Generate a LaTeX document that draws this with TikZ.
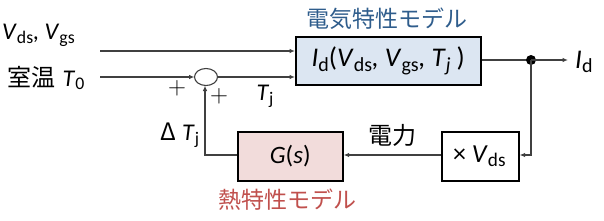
\documentclass[tikz,border=0pt]{standalone}
\usepackage{fontspec}
\usepackage{graphicx}
\setmainfont{Carlito}
\newfontfamily\jp{Noto Sans CJK JP}
\usetikzlibrary{arrows.meta}
\definecolor{bluefill}{HTML}{DCE6F2}
\definecolor{pinkfill}{HTML}{F2DCDB}
\definecolor{bluetitle}{HTML}{2F5D8C}
\definecolor{redtitle}{HTML}{C0504D}
\definecolor{linegray}{HTML}{404040}
\newcommand\lo[1]{\raisebox{-0.33ex}{\scalebox{0.74}{#1}}}
\tikzset{
  conn/.style={draw=linegray, line width=1.1pt, -{Latex[length=5.5pt,width=4.5pt]}},
  plain/.style={draw=linegray, line width=1.1pt},
  blockbox/.style={draw=black, line width=1.6pt, anchor=north west, inner sep=0pt},
  lbl/.style={inner sep=0pt, font=\fontsize{24}{26}\selectfont},
  jplbl/.style={inner sep=0pt, font=\jp\fontsize{23}{26}\selectfont},
  plus/.style={inner sep=0pt, font=\fontsize{24}{26}\selectfont},
}
\begin{document}
\begin{tikzpicture}[x=1pt,y=-1pt]
\useasboundingbox (0,0) rectangle (604,220);
% blocks
\node[blockbox, fill=bluefill, minimum width=185pt, minimum height=48pt] (elec) at (295,36) {};
\node[lbl, font=\fontsize{27}{30}\selectfont] (elect) at (elec.center) {\textit{I}\lo{d}(\textit{V}\lo{ds}\textit{,} \textit{V}\lo{gs}\textit{,} \textit{T}\lo{\textit{j}} )};
\node[blockbox, fill=pinkfill, minimum width=105pt, minimum height=49pt] (therm) at (237,131) {};
\node[lbl, font=\fontsize{25}{28}\selectfont] (thermt) at (therm.center) {\textit{G}(\textit{s})};
\node[blockbox, fill=white, minimum width=77pt, minimum height=49pt] (mult) at (441,131) {};
\node[lbl, font=\fontsize{26}{28}\selectfont] (multt) at ([xshift=-1pt]mult.center) {× \textit{V}\lo{ds}};
% titles
\node[jplbl, text=bluetitle] (t1) at (387,19) {電気特性モデル};
\node[jplbl, text=redtitle] (t2) at (287,200) {熱特性モデル};
\node[jplbl, font=\jp\fontsize{24}{26}\selectfont] (pw) at (392,135) {電力};
% inputs
\node[lbl, anchor=west] (vin) at (2,35) {\textit{V}\lo{ds}\textit{,} \textit{V}\lo{gs}};
\node[lbl, anchor=west] (t0) at (7,78) {{\jp\fontsize{24}{26}\selectfont 室温}\hspace{2pt} \textit{T}\lo{0}};
\coordinate (s1) at (100,51);
\coordinate (s2) at (100,77);
% summing junction
\draw[linegray, line width=1.1pt] (206,77) ellipse [x radius=11.5, y radius=8.5];
\coordinate (sumW) at (194.5,77);
\coordinate (sumE) at (217.5,77);
\coordinate (sumS) at (206,85.5);
\draw[conn] (s1) -- (s1 -| elec.west);
\draw[conn] (s2) -- (sumW);
\draw[conn] (sumE) -- (sumE -| elec.west);
\node[plus] (p1) at (177,88) {$+$};
\node[plus] (p2) at (219,96) {$+$};
\node[lbl] (tj) at (265,96) {\textit{T}\lo{j}};
% output
\coordinate (dot) at (531,60);
\draw[plain] (elec.east |- dot) -- (dot);
\fill[black] (dot) circle (5);
\coordinate (out) at (568,60);
\draw[conn] (dot) -- (out);
\node[lbl, anchor=west, font=\fontsize{27}{30}\selectfont] (id) at (575,62) {\textit{I}\lo{d}};
% feedback
\coordinate (fb) at (531,155);
\draw[conn] (dot) -- (fb) -- (fb -| mult.east);
\draw[conn] (mult.west |- fb) -- (therm.east |- fb);
\coordinate (fb2) at (205,155);
\draw[conn] (therm.west |- fb2) -- (fb2) -- (fb2 |- sumS);
\node[lbl] (dtj) at (180,135) {{\jp Δ} \textit{T}\lo{j}};
\end{tikzpicture}
\end{document}
